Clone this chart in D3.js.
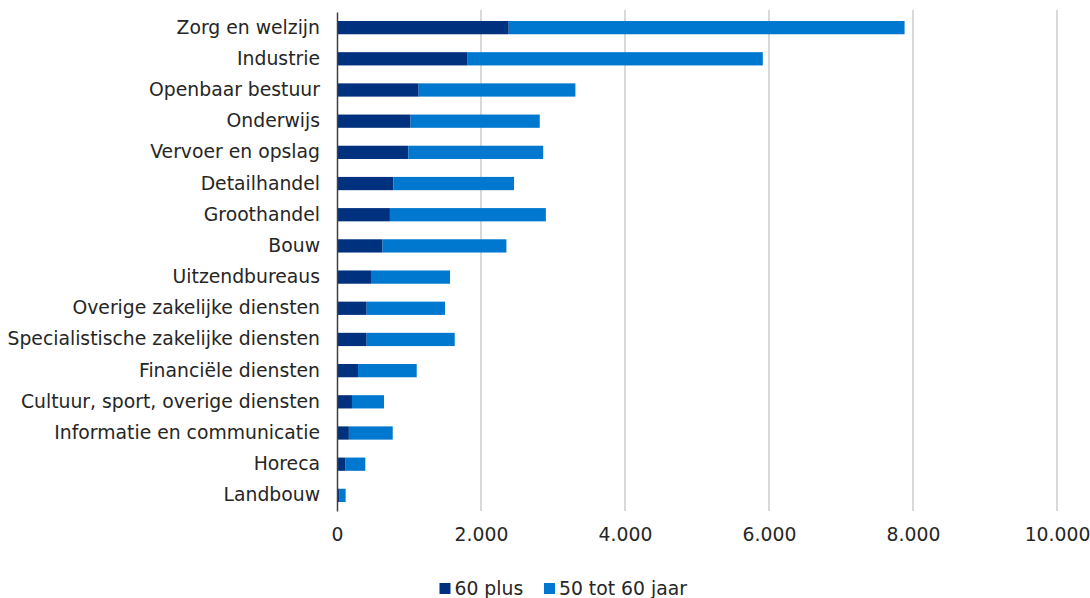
<!DOCTYPE html>
<html><head><meta charset="utf-8">
<script src="https://cdn.jsdelivr.net/npm/d3@7"></script>
<style>body{margin:0;background:#fff;} text{font-family:"DejaVu Sans",Verdana,sans-serif;}</style>
</head><body>
<svg id="c" width="1090" height="598"></svg>
<script>
const categories = ["Zorg en welzijn","Industrie","Openbaar bestuur","Onderwijs","Vervoer en opslag","Detailhandel","Groothandel","Bouw","Uitzendbureaus","Overige zakelijke diensten","Specialistische zakelijke diensten","Financiële diensten","Cultuur, sport, overige diensten","Informatie en communicatie","Horeca","Landbouw"];
const plus60 = [2385,1815,1134,1022,990,782,735,633,472,412,412,292,208,165,120,37];
const age50to60 = [5498,4099,2177,1794,1874,1677,2166,1720,1098,1088,1223,815,445,609,273,83];
const xTicks = [0,2000,4000,6000,8000,10000];
const seriesNames = ["60 plus","50 tot 60 jaar"];
const colors = ["#00317F","#0078CF"];

const FS = 18.8;
const svg = d3.select("#c");
const m = {left:337, right:1057, top:12, bottom:511};
const x = d3.scaleLinear().domain([0,10000]).range([m.left,m.right]);
const y = d3.scaleBand().domain(categories).range([m.top,m.bottom]).paddingInner(0.575).paddingOuter(0.2886);

// gridlines
svg.append("g").selectAll("line").data(xTicks.slice(1)).join("line")
  .attr("x1",d=>x(d)).attr("x2",d=>x(d)).attr("y1",10).attr("y2",m.bottom)
  .attr("stroke","#d9d9d9").attr("stroke-width",2);

const rows = categories.map((c,i)=>({c, a:plus60[i], b:age50to60[i]}));
const g = svg.append("g");
g.selectAll("rect.a").data(rows).join("rect")
  .attr("x",x(0)).attr("y",d=>y(d.c)).attr("width",d=>x(d.a)-x(0)).attr("height",y.bandwidth())
  .attr("fill",colors[0]);
g.selectAll("rect.b").data(rows).join("rect")
  .attr("x",d=>x(d.a)).attr("y",d=>y(d.c)).attr("width",d=>x(d.a+d.b)-x(d.a)).attr("height",y.bandwidth())
  .attr("fill",colors[1]);

// y axis
const ya = svg.append("g").attr("transform",`translate(${m.left},0)`)
  .call(d3.axisLeft(y).tickSize(0).tickPadding(17));
ya.select(".domain").attr("stroke","#404040").attr("stroke-width",1.5);
ya.selectAll("text").attr("font-size",FS).attr("fill","#262626")
  .style("font-family",'"DejaVu Sans",Verdana,sans-serif');

// x axis
const fmt = d=>d3.format(",")(d).replace(/,/g,".");
const xa = svg.append("g").attr("transform",`translate(0,${m.bottom})`)
  .call(d3.axisBottom(x).tickValues(xTicks).tickFormat(fmt).tickSize(0).tickPadding(17));
xa.select(".domain").remove();
xa.selectAll("text").attr("font-size",FS).attr("fill","#262626")
  .style("font-family",'"DejaVu Sans",Verdana,sans-serif');

// legend
const leg = svg.append("g");
const lx = [439.5,544];
seriesNames.forEach((n,i)=>{
  leg.append("rect").attr("x",lx[i]).attr("y",583).attr("width",11).attr("height",11).attr("fill",colors[i]);
  leg.append("text").attr("x",lx[i]+15).attr("y",595).attr("font-size",FS).attr("fill","#262626").text(n);
});
</script>
</body></html>
